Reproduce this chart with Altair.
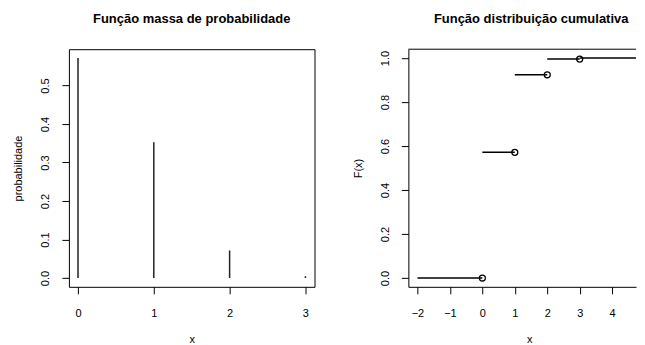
import altair as alt
import pandas as pd

# PMF data
pmf_x = [0, 1, 2, 3]
pmf_p = [0.5714, 0.3524, 0.0714, 0.0048]

# CDF step segments
cdf_start = [-2, 0, 1, 2, 3]
cdf_end = [0, 1, 2, 3, 5.28]
cdf_value = [0.0, 0.5714, 0.9238, 0.9952, 1.0]

# open circles at the right end of each step
circ_x = [0, 1, 2, 3]
circ_y = [0.0, 0.5714, 0.9238, 0.9952]

# tick labels
pmf_xticks = [0, 1, 2, 3]
pmf_yticks = [0, 0.1, 0.2, 0.3, 0.4, 0.5]
cdf_xticks = [-2, -1, 0, 1, 2, 3, 4]
cdf_yticks = [0, 0.2, 0.4, 0.6, 0.8, 1.0]

FONT = "Liberation Sans"
W, H = 246, 238
WR = 228  # right panel is cut by the window edge

pmf_df = pd.DataFrame({"x": pmf_x, "p": pmf_p, "zero": [0] * len(pmf_x)})
seg_df = pd.DataFrame({"a": cdf_start, "b": cdf_end, "v": cdf_value})
circ_df = pd.DataFrame({"x": circ_x, "y": circ_y})


def yaxis(title, values, fmt, domain=False):
    return alt.Axis(
        title=title, values=values, format=fmt, domain=domain, domainColor="black",
        domainWidth=1, grid=False,
        tickSize=7, tickColor="black", tickWidth=1,
        labelAngle=-90, labelAlign="center", labelBaseline="bottom",
        labelPadding=11, labelFont=FONT, labelFontSize=11, labelColor="black",
        titleFont=FONT, titleFontSize=11, titleFontWeight="normal", titleColor="black",
        titlePadding=16, labelFlush=False, labelOverlap=False,
    )


def xaxis(values, domain=False, **kw):
    return alt.Axis(
        title="x", values=values, format="d", domain=domain, domainColor="black",
        domainWidth=1, grid=False,
        tickSize=7, tickColor="black", tickWidth=1,
        labelPadding=14, labelFont=FONT, labelFontSize=11, labelColor="black",
        titleFont=FONT, titleFontSize=11, titleFontWeight="normal", titleColor="black",
        titlePadding=15, labelFlush=False, labelOverlap=False, **kw
    )


def title(txt, dx=0):
    return alt.TitleParams(txt, font=FONT, fontSize=13, fontWeight="bold",
                           color="black", anchor="middle", frame="group",
                           offset=23, dx=dx)


left = alt.Chart(pmf_df).mark_rule(color="#222", strokeWidth=1.5).encode(
    x=alt.X("x:Q", scale=alt.Scale(domain=[-0.12, 3.12], nice=False, zero=False),
            axis=xaxis(pmf_xticks)),
    y=alt.Y("zero:Q", scale=alt.Scale(domain=[-0.0229, 0.5943], nice=False, zero=False),
            axis=yaxis("probabilidade", pmf_yticks, ".1f")),
    y2="p:Q",
).properties(width=W, height=H, title=title("Função massa de probabilidade"))

xs = alt.Scale(domain=[-2.28, 4.735], nice=False, zero=False)
ys = alt.Scale(domain=[-0.04, 1.04], nice=False, zero=False)
xax = xaxis(cdf_xticks, domain=True, titleX=121)
yax = yaxis("F(x)", cdf_yticks, ".1f", domain=True)

segs = alt.Chart(seg_df).mark_rule(color="black", strokeWidth=1.5, clip=True).encode(
    x=alt.X("a:Q", scale=xs, axis=xax),
    x2="b:Q",
    y=alt.Y("v:Q", scale=ys, axis=yax),
)
circs = alt.Chart(circ_df).mark_point(shape="circle", filled=False, color="black",
                                      size=36, strokeWidth=1.3, opacity=1).encode(
    x=alt.X("x:Q", scale=xs, axis=xax),
    y=alt.Y("y:Q", scale=ys, axis=yax),
)
topline = alt.Chart(circ_df.head(1)).mark_rule(color="black", strokeWidth=1).encode(
    x=alt.value(0), x2=alt.value(WR), y=alt.value(0)
)
right = alt.layer(segs, circs, topline).properties(
    width=WR, height=H,
    title=title("Função distribuição cumulativa", dx=9),
    view=alt.ViewBackground(strokeOpacity=0),
)

chart = alt.hconcat(left, right, spacing=94, bounds="flush").properties(
    padding={"left": 4, "top": 4, "right": 0, "bottom": 0}
).configure(
    background="white",
    view=alt.ViewConfig(stroke="black", strokeWidth=1),
)

chart.save("out.html", embed_options={"renderer": "svg", "actions": False})
